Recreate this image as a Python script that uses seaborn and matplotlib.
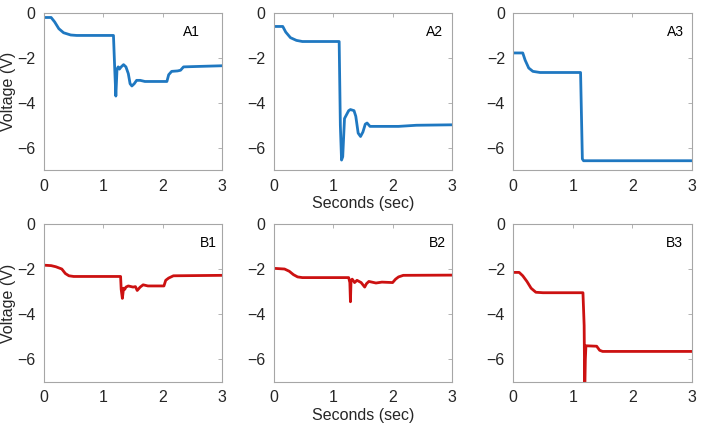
import numpy as np
import pandas as pd
import matplotlib
matplotlib.use("Agg")
import matplotlib.pyplot as plt
import seaborn as sns

# ------------------------------#
# Traces (time in sec, voltage in V)
a1_t = [0, 0.12, 0.18, 0.25, 0.33, 0.45, 0.55, 1.17, 1.19, 1.21, 1.23, 1.25, 1.27, 1.30,
        1.34, 1.38, 1.42, 1.45, 1.48, 1.52, 1.56, 1.62, 1.70, 2.07, 2.10, 2.15, 2.25,
        2.30, 2.35, 2.60, 3.0]
a1_v = [-0.2, -0.2, -0.4, -0.7, -0.88, -0.98, -1.0, -1.0, -2.4, -3.7, -2.5, -2.4, -2.5, -2.4,
        -2.3, -2.4, -2.7, -3.15, -3.25, -3.15, -3.0, -3.0, -3.05, -3.05, -2.75, -2.6, -2.58,
        -2.55, -2.4, -2.38, -2.35]

a2_t = [0, 0.15, 0.2, 0.28, 0.38, 0.48, 1.10, 1.12, 1.14, 1.16, 1.19, 1.22, 1.26, 1.29,
        1.35, 1.38, 1.42, 1.46, 1.50, 1.54, 1.57, 1.62, 1.70, 2.10, 2.40, 3.0]
a2_v = [-0.6, -0.6, -0.85, -1.1, -1.22, -1.27, -1.27, -5.0, -6.55, -6.4, -4.7, -4.55, -4.35, -4.3,
        -4.35, -4.6, -5.35, -5.5, -5.3, -4.95, -4.9, -5.05, -5.05, -5.05, -5.0, -4.98]

a3_t = [0, 0.16, 0.2, 0.26, 0.33, 0.45, 1.13, 1.16, 1.18, 3.0]
a3_v = [-1.78, -1.78, -2.1, -2.45, -2.6, -2.65, -2.65, -6.5, -6.58, -6.58]

b1_t = [0, 0.12, 0.2, 0.3, 0.36, 0.42, 0.5, 1.29, 1.30, 1.32, 1.34, 1.36, 1.38, 1.42,
        1.50, 1.54, 1.57, 1.62, 1.67, 1.75, 2.02, 2.05, 2.10, 2.18, 3.0]
b1_v = [-1.83, -1.85, -1.9, -2.0, -2.2, -2.3, -2.33, -2.33, -2.9, -3.3, -2.85, -2.9, -2.8, -2.75,
        -2.8, -2.78, -2.95, -2.8, -2.7, -2.75, -2.75, -2.5, -2.4, -2.3, -2.28]

b2_t = [0, 0.18, 0.26, 0.33, 0.40, 0.48, 1.26, 1.28, 1.29, 1.30, 1.32, 1.36, 1.40, 1.47,
        1.53, 1.56, 1.60, 1.72, 1.82, 2.0, 2.05, 2.10, 2.18, 3.0]
b2_v = [-1.97, -2.0, -2.1, -2.25, -2.35, -2.38, -2.38, -2.6, -3.45, -2.5, -2.45, -2.6, -2.5, -2.6,
        -2.8, -2.65, -2.55, -2.62, -2.58, -2.6, -2.45, -2.35, -2.28, -2.27]

b3_t = [0, 0.1, 0.16, 0.23, 0.3, 0.38, 0.5, 1.17, 1.19, 1.20, 1.21, 1.22, 1.40, 1.45, 1.50, 3.0]
b3_v = [-2.15, -2.15, -2.3, -2.55, -2.85, -3.03, -3.05, -3.05, -4.5, -7.5, -6.0, -5.4, -5.42,
        -5.6, -5.65, -5.65]

# ------------------------------#
# Global settings
blue = "#1f78c1"
red = "#cc1111"
grey = "#a6a6a6"
text_col = "#262626"

sns.set_style("white")
plt.rcParams["font.family"] = ["Liberation Sans", "DejaVu Sans"]

fig = plt.figure(figsize=(7.04, 4.33), dpi=100)

panels = [
    ("A1", a1_t, a1_v, blue, [0.0625, 0.607, 0.253, 0.363], 0.83),
    ("A2", a2_t, a2_v, blue, [0.389, 0.607, 0.253, 0.363], 0.90),
    ("A3", a3_t, a3_v, blue, [0.729, 0.607, 0.254, 0.363], 0.91),
    ("B1", b1_t, b1_v, red, [0.0625, 0.118, 0.253, 0.365], 0.92),
    ("B2", b2_t, b2_v, red, [0.389, 0.118, 0.253, 0.365], 0.92),
    ("B3", b3_t, b3_v, red, [0.729, 0.118, 0.254, 0.365], 0.90),
]

for i, (name, t, v, col, pos, lx) in enumerate(panels):
    ax = fig.add_axes(pos)
    df = pd.DataFrame({"t": t, "v": v})
    sns.lineplot(data=df, x="t", y="v", ax=ax, color=col, linewidth=2.0,
                 estimator=None, sort=False)
    ax.set_xlim(0, 3)
    ax.set_ylim(-7, 0)
    ax.set_xticks([0, 1, 2, 3])
    ax.set_yticks([0, -2, -4, -6])
    ax.tick_params(direction="in", length=3, width=0.6, color=grey,
                   top=True, right=True, labelsize=11.5, labelcolor=text_col, pad=6)
    for s in ax.spines.values():
        s.set_color(grey)
        s.set_linewidth(0.8)
    ax.text(lx, 0.88, name, transform=ax.transAxes, ha="center", va="center",
            fontsize=10, color="black")
    ax.set_xlabel("Seconds (sec)" if i % 3 == 1 else "", fontsize=11.5,
                  color=text_col, labelpad=2)
    ax.set_ylabel("Voltage (V)" if i % 3 == 0 else "", fontsize=11.5,
                  color=text_col)
    ax.yaxis.set_label_coords(-0.16, 0.5)

fig.savefig("out.png", dpi=100)
